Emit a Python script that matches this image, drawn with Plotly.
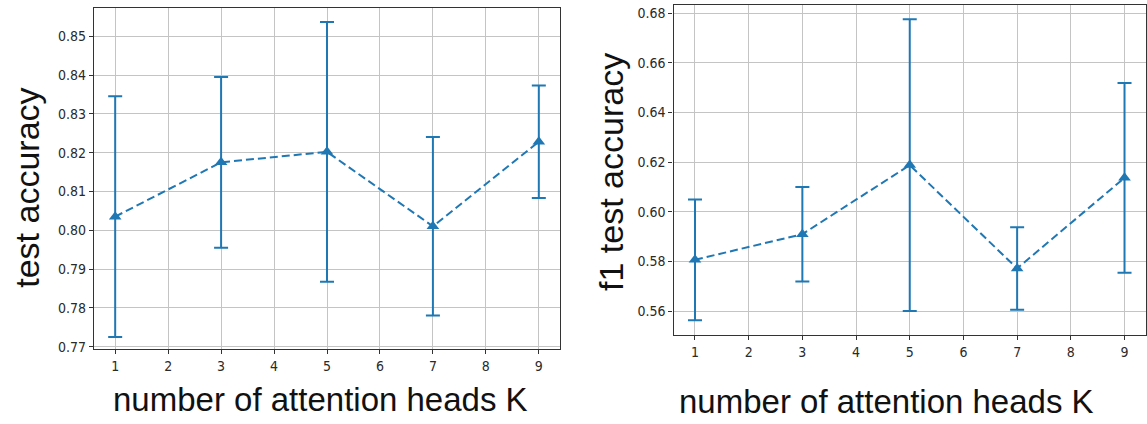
import plotly.graph_objects as go

# Number of attention heads
heads = [1, 3, 5, 7, 9]

# Test accuracy (mean and standard deviation)
acc_mean = [0.8035, 0.8175, 0.8202, 0.8010, 0.8228]
acc_std = [0.0310, 0.0220, 0.0335, 0.0230, 0.0145]

# F1 test accuracy (mean and standard deviation)
f1_mean = [0.5807, 0.5910, 0.6188, 0.5772, 0.6137]
f1_std = [0.0243, 0.0190, 0.0587, 0.0166, 0.0382]

acc_ticks = [0.77, 0.78, 0.79, 0.80, 0.81, 0.82, 0.83, 0.84, 0.85]
f1_ticks = [0.56, 0.58, 0.60, 0.62, 0.64, 0.66, 0.68]
x_ticks = [1, 2, 3, 4, 5, 6, 7, 8, 9]

W, H = 1147, 424
BLUE = "#1f77b4"


def px_x(p):
    return p / W


def px_y(p):
    return 1 - p / H


fig = go.Figure()

for i, (m, s) in enumerate([(acc_mean, acc_std), (f1_mean, f1_std)]):
    suffix = "" if i == 0 else str(i + 1)
    fig.add_trace(go.Scatter(
        x=heads, y=m,
        xaxis="x" + suffix, yaxis="y" + suffix,
        mode="lines+markers",
        line=dict(color=BLUE, width=2, dash="8px,4px"),
        marker=dict(symbol="triangle-up", size=11, color=BLUE),
        error_y=dict(type="data", array=s, visible=True,
                     color=BLUE, thickness=2, width=7),
        showlegend=False,
    ))

axis_common = dict(
    showgrid=True, gridcolor="#c4c4c4", gridwidth=1,
    showline=True, linecolor="#333333", linewidth=1.2, mirror=True,
    ticks="outside", ticklen=4, tickcolor="#333333",
    tickfont=dict(family="DejaVu Sans Condensed, DejaVu Sans", size=14, color="#2a2a2a"),
    zeroline=False,
)

fig.update_layout(
    width=W, height=H,
    margin=dict(l=0, r=0, t=0, b=0),
    paper_bgcolor="white", plot_bgcolor="white",
    xaxis=dict(domain=[px_x(94), px_x(560)], range=[0.6, 9.4],
               tickvals=x_ticks, anchor="y", **axis_common),
    yaxis=dict(domain=[px_y(353.5), px_y(8)], range=[0.7693, 0.8573],
               tickvals=acc_ticks, tickformat=".2f", anchor="x", **axis_common),
    xaxis2=dict(domain=[px_x(673.5), px_x(1146)], range=[0.6, 9.4],
                tickvals=x_ticks, anchor="y2", **axis_common),
    yaxis2=dict(domain=[px_y(339.3), px_y(4.7)], range=[0.5503, 0.6834],
                tickvals=f1_ticks, tickformat=".2f", anchor="x2", **axis_common),
)

label_font = dict(family="Liberation Sans", size=33, color="#111111")
fig.add_annotation(text="number of attention heads K", xref="paper", yref="paper",
                   x=px_x(320), y=px_y(404), showarrow=False, font=label_font,
                   xanchor="center", yanchor="middle")
fig.add_annotation(text="number of attention heads K", xref="paper", yref="paper",
                   x=px_x(886), y=px_y(406), showarrow=False, font=label_font,
                   xanchor="center", yanchor="middle")
fig.add_annotation(text="test accuracy", xref="paper", yref="paper",
                   x=px_x(27), y=px_y(190), showarrow=False, textangle=-90,
                   font=dict(family="Liberation Sans", size=34, color="#111111"),
                   xanchor="center", yanchor="middle")
fig.add_annotation(text="f1 test accuracy", xref="paper", yref="paper",
                   x=px_x(611), y=px_y(174), showarrow=False, textangle=-90,
                   font=dict(family="Liberation Sans", size=34, color="#111111"),
                   xanchor="center", yanchor="middle")

fig.write_html("out.html")
